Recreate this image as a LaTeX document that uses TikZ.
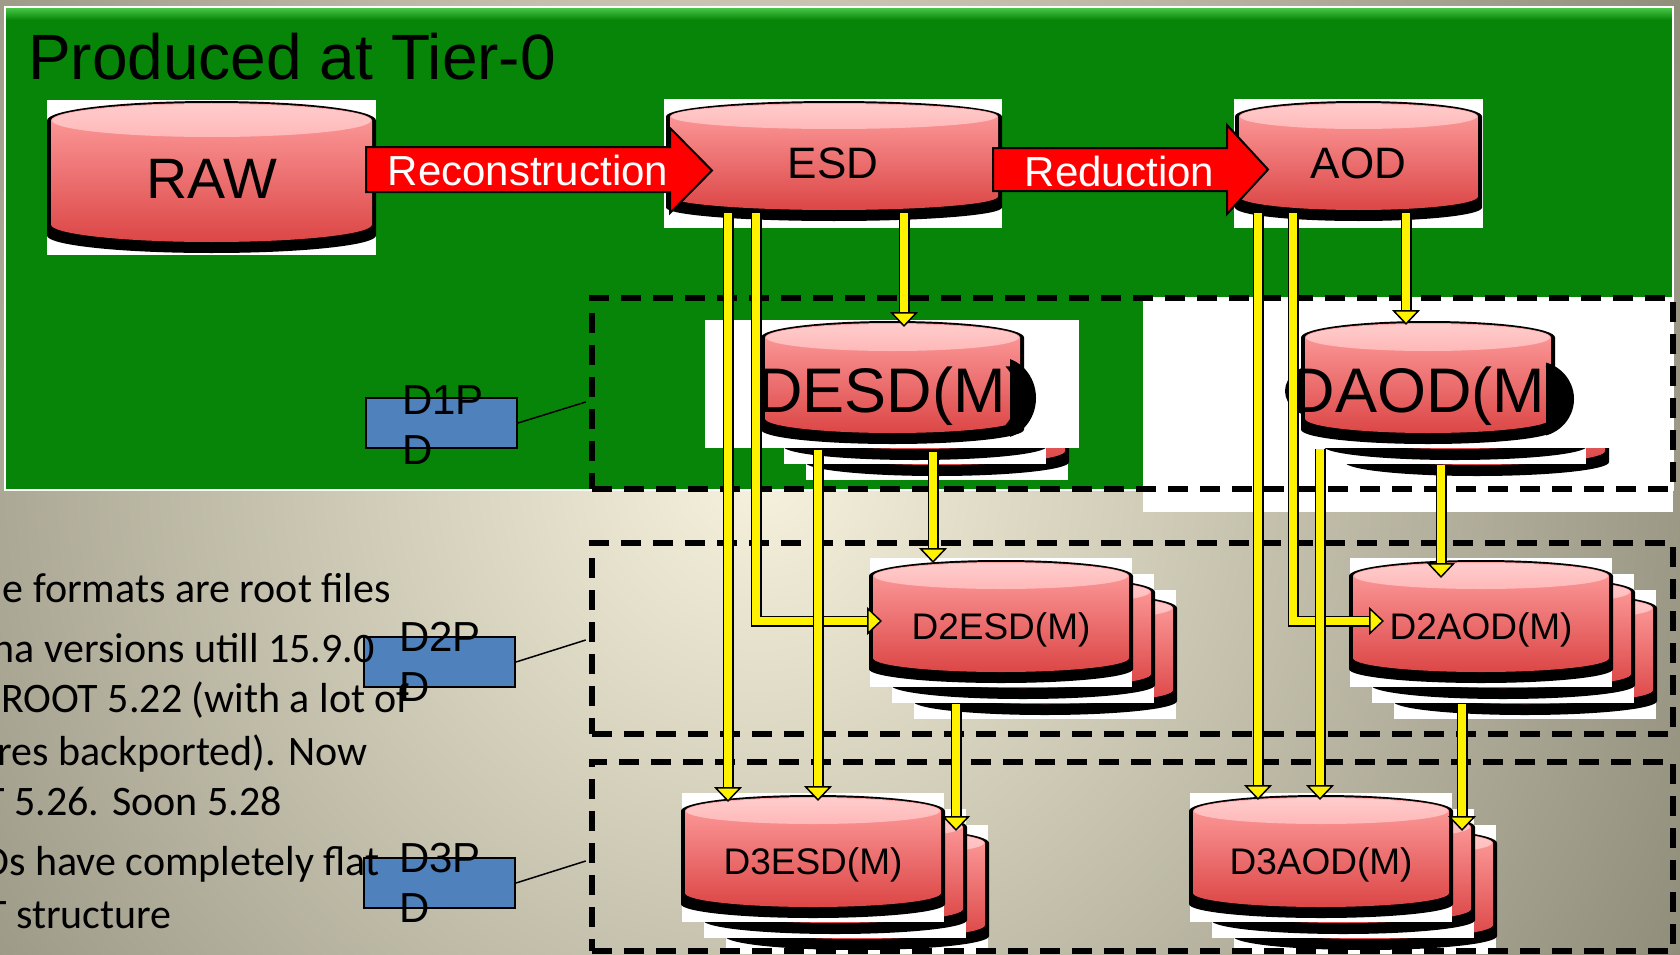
\documentclass[tikz,border=0pt]{standalone}
\usepackage{fontspec}
\setmainfont{Liberation Sans}
\newfontfamily\bodyfont{Carlito}
\usetikzlibrary{arrows.meta,calc}
\definecolor{bgin}{HTML}{F6F2DD}
\definecolor{bgout}{HTML}{8A8775}
\definecolor{tgreen}{HTML}{068508}
\definecolor{tgreenlt}{HTML}{4CCB4C}
\definecolor{cylface}{HTML}{FFCCCC}
\definecolor{cylfacelow}{HTML}{FFB8B8}
\definecolor{cyltop}{HTML}{FFA0A0}
\definecolor{cylbot}{HTML}{DC4646}
\definecolor{pdblue}{HTML}{4F81BD}

\newcommand{\cylshape}[5]{%
  \pgfmathsetmacro{\cyA}{((#2)-(#1))/2}%
  \pgfmathsetmacro{\cyX}{((#1)+(#2))/2}%
  \pgfmathsetmacro{\cyL}{#1}%
  \pgfmathsetmacro{\cyR}{#2}%
  \pgfmathsetmacro{\cyT}{-((#3)+(#5))}%
  \pgfmathsetmacro{\cyB}{-((#4)-(#5))}%
  \pgfmathsetmacro{\cyS}{-((#4)-(#5)+11)}%
  \pgfmathsetmacro{\cyRy}{#5}%
  \fill[black] ({\cyL-4},\cyT) -- ({\cyL-4},\cyS) arc[start angle=180,end angle=360,x radius={\cyA+4},y radius=\cyRy] -- ({\cyR+4},\cyT) arc[start angle=0,end angle=180,x radius={\cyA+4},y radius={\cyRy+2}] -- cycle;
  \shade[top color=cyltop,bottom color=cylbot] (\cyL,\cyT) -- (\cyL,\cyB) arc[start angle=180,end angle=360,x radius=\cyA,y radius=\cyRy] -- (\cyR,\cyT) arc[start angle=0,end angle=180,x radius=\cyA,y radius=\cyRy] -- cycle;
  \shade[top color=cylface,bottom color=cylfacelow] (\cyX,\cyT) ellipse[x radius={\cyA-1},y radius={\cyRy-1}];
}
\newcommand{\stackunit}[2]{%
  \fill[white] (#1,-#2) rectangle ({(#1)+262},{-((#2)+129)});
  \cylshape{(#1)+3}{(#1)+259}{(#2)+4}{(#2)+114}{14}%
}

\tikzset{
  cyltext/.style={inner sep=0pt, outer sep=0pt, text=black},
  yarrow/.style={draw=yellow, line width=8pt, line join=miter,
    -{Triangle[length=15pt,width=28pt,line width=1.5pt,color=black,fill=yellow]},
    preaction={draw=black, line width=11pt, arrows=-, shorten >=11pt}},
  redarrow/.style={fill=red, draw=black, line width=2pt, line join=miter},
  arrowtext/.style={text=white, inner sep=0pt, font=\fontsize{42}{46}\selectfont},
  dashbox/.style={draw=black, line width=6.5pt, dash pattern=on 20pt off 12pt, inner sep=0pt, minimum width=1081pt},
  pdbox/.style={draw=black, line width=2pt, fill=pdblue, minimum width=151pt, minimum height=50pt, inner sep=0pt},
  pdtext/.style={anchor=north west, align=left, inner sep=0pt, font=\fontsize{42}{50}\selectfont},
  thinline/.style={draw=black, line width=1.5pt},
  bodytext/.style={anchor=base east, inner sep=0pt, font=\bodyfont\fontsize{42}{50}\selectfont},
  smalltext/.style={font=\fontsize{37}{40}\selectfont, text height=34pt, text depth=0pt},
  bigtext/.style={font=\fontsize{63}{70}\selectfont, text height=57pt, text depth=0pt}
}

\begin{document}
\begin{tikzpicture}[x=1pt,y=1pt]
\useasboundingbox (0,0) rectangle (1680,-955);
\begin{scope}
\clip (0,0) rectangle (1680,-955);
% background
\shade[inner color=bgin, outer color=bgout] (-340,-1570) rectangle (1860,630);

% green panel
\fill[tgreen] (5,-7) rectangle (1673,-490);
\shade[top color=tgreenlt, bottom color=tgreen] (5,-7) rectangle (1673,-20);
\draw[white, line width=1.5pt] (5,-7) rectangle (1673,-490);

\node[anchor=base west, inner sep=0pt, font=\fontsize{64}{70}\selectfont] (title) at (28,-80) {Produced at Tier-0};

% top row
\fill[white] (47,-100) rectangle (376,-255);
\cylshape{51}{372}{103}{242}{17.5}
\node[cyltext, minimum width=329pt, minimum height=155pt, font=\fontsize{57}{60}\selectfont] (raw) at (211.5,-179) {RAW};

\fill[white] (664,-99) rectangle (1002,-228);
\cylshape{670}{998}{103}{210}{13.5}
\node[cyltext, minimum width=338pt, minimum height=129pt, font=\fontsize{44}{48}\selectfont] (esd) at (833,-163.5) {ESD};

\fill[white] (1234,-99) rectangle (1483,-228);
\cylshape{1239}{1478}{103}{210}{13.5}
\node[cyltext, minimum width=249pt, minimum height=129pt, font=\fontsize{44}{48}\selectfont] (aod) at (1358.5,-163.5) {AOD};

% D1 level
\fill[white] (1143,-297) rectangle (1673,-512);
\stackunit{806}{351}
\stackunit{784}{335}
\fill[white] (705,-320) rectangle (1079,-448);
\cylshape{765}{1020}{323}{433}{14.5}
\begin{scope}
\clip (1010,-340) rectangle (1045,-445);
\fill[black] (998,-398) ellipse[x radius=38, y radius=41];
\end{scope}
\begin{scope}
\clip (765,-337.5) -- (765,-418.5) arc[start angle=180,end angle=360,x radius=127.5,y radius=14.5] -- (1020,-337.5) arc[start angle=0,end angle=180,x radius=127.5,y radius=14.5] -- cycle;
\node[cyltext, bigtext, minimum width=374pt, minimum height=128pt] (desd) at (892,-384) {DESD(M)};
\end{scope}

\stackunit{1346}{351}
\stackunit{1324}{335}
\fill[white] (1245,-320) rectangle (1615,-448);
\fill[black] (1320,-391) ellipse[x radius=35, y radius=27];
\cylshape{1305}{1551}{323}{433}{14.5}
\begin{scope}
\clip (1546,-340) rectangle (1580,-445);
\fill[black] (1535,-399) ellipse[x radius=39, y radius=38];
\end{scope}
\begin{scope}
\clip (1305,-337.5) -- (1305,-418.5) arc[start angle=180,end angle=360,x radius=123,y radius=14.5] -- (1546,-418.5) -- (1546,-337.5) arc[start angle=0,end angle=180,x radius=120.5,y radius=14.5] -- cycle;
\node[cyltext, bigtext, minimum width=370pt, minimum height=128pt] (daod) at (1428,-384) {DAOD(M)};
\end{scope}

% D2 level
\stackunit{914}{590}
\stackunit{892}{574}
\stackunit{870}{558}
\node[cyltext, smalltext, minimum width=262pt, minimum height=129pt] (d2esd) at (1001,-622.5) {D2ESD(M)};
\stackunit{1394}{590}
\stackunit{1372}{574}
\stackunit{1350}{558}
\node[cyltext, smalltext, minimum width=262pt, minimum height=129pt] (d2aod) at (1481,-622.5) {D2AOD(M)};

% D3 level
\stackunit{726}{825}
\stackunit{704}{809}
\stackunit{682}{793}
\node[cyltext, smalltext, minimum width=262pt, minimum height=129pt] (d3esd) at (813,-857.5) {D3ESD(M)};
\stackunit{1234}{825}
\stackunit{1212}{809}
\stackunit{1190}{793}
\node[cyltext, smalltext, minimum width=262pt, minimum height=129pt] (d3aod) at (1321,-857.5) {D3AOD(M)};

% red block arrows
\draw[redarrow] ($(raw.east)+(-10,32)$) -- ($(esd.west)+(6,16.5)$) -- ++(0,19) -- ($(esd.west)+(48,-7)$) -- ($(esd.west)+(6,-49.5)$) -- ++(0,21) -- ($(raw.east)+(-10,-13)$) -- cycle;
\node[arrowtext] (recon) at (528,-170) {Reconstruction};
\draw[redarrow] ($(esd.east)+(-9,15.5)$) -- ($(aod.west)+(-7,15.5)$) -- ++(0,23) -- ($(aod.west)+(34,-6)$) -- ($(aod.west)+(-7,-50.5)$) -- ++(0,23) -- ($(esd.east)+(-9,-27.5)$) -- cycle;
\node[arrowtext] (reduc) at (1119.5,-171) {Reduction};

% dashed boxes
\node[dashbox, minimum height=191pt] (box1) at (1132.5,-393.5) {};
\node[dashbox, minimum height=191pt] (box2) at (1132.5,-638.5) {};
\node[dashbox, minimum height=189pt] (box3) at (1132.5,-856.5) {};

% labels
\node[pdbox] (d1pd) at (441.5,-423) {};
\node[pdbox] (d2pd) at (439.5,-662) {};
\node[pdbox] (d3pd) at (439.5,-883) {};
\draw[thinline] (d1pd.east) -- ($(box1.west)+(-3,-8.5)$);
\draw[thinline] (d2pd.east) -- ($(box2.west)+(-3,-1.5)$);
\draw[thinline] (d3pd.east) -- ($(box3.west)+(-3,-4.5)$);
\node[pdtext] (d1pdt) at (402,-385) {D1P\\D};
\node[pdtext] (d2pdt) at (399,-622) {D2P\\D};
\node[pdtext] (d3pdt) at (399,-843) {D3P\\D};

% body text
\node[bodytext] (t1) at (391,-602) {e formats are root files};
\node[bodytext] (t2) at (375,-662) {na versions utill 15.9.0};
\node[bodytext] (t3) at (410,-712) {ROOT 5.22 (with a lot of};
\node[bodytext] (t4) at (368,-765) {res backported). Now};
\node[bodytext] (t5) at (282,-815) {T 5.26. Soon 5.28};
\node[bodytext] (t6) at (380,-875) {Ds have completely flat};
\node[bodytext] (t7) at (172,-928) {T structure};

% yellow arrows
\draw[yarrow] ($(esd.south)+(-105,15)$) -- ($(d3esd.north)+(-85,-9)$);
\draw[yarrow] ($(esd.south)+(-77,15)$) |- ($(d2esd.west)+(12,1.5)$);
\draw[yarrow] ($(esd.south)+(71,15)$) -- ($(desd.north)+(12,-7)$);
\draw[yarrow] ($(desd.south)+(-74,-2)$) -- ($(d3esd.north)+(5,-8)$);
\draw[yarrow] ($(desd.south)+(41,-4)$) -- ($(d2esd.north)+(-68,-5)$);
\draw[yarrow] ($(d2esd.south)+(-45,-17)$) -- ($(d3esd.north)+(143,-38)$);
\draw[yarrow] ($(aod.south)+(-100.5,15)$) -- ($(d3aod.north)+(-63,-7)$);
\draw[yarrow] ($(aod.south)+(-65.5,15)$) |- ($(d2aod.west)+(34,1.5)$);
\draw[yarrow] ($(aod.south)+(47.5,15)$) -- ($(daod.north)+(-22,-5)$);
\draw[yarrow] ($(daod.south)+(-108,-1)$) -- ($(d3aod.north)+(-1,-7)$);
\draw[yarrow] ($(daod.south)+(13,-17)$) -- ($(d2aod.north)+(-40,-20)$);
\draw[yarrow] ($(d2aod.south)+(-19,-17)$) -- ($(d3aod.north)+(141,-38)$);
\end{scope}
\end{tikzpicture}
\end{document}
